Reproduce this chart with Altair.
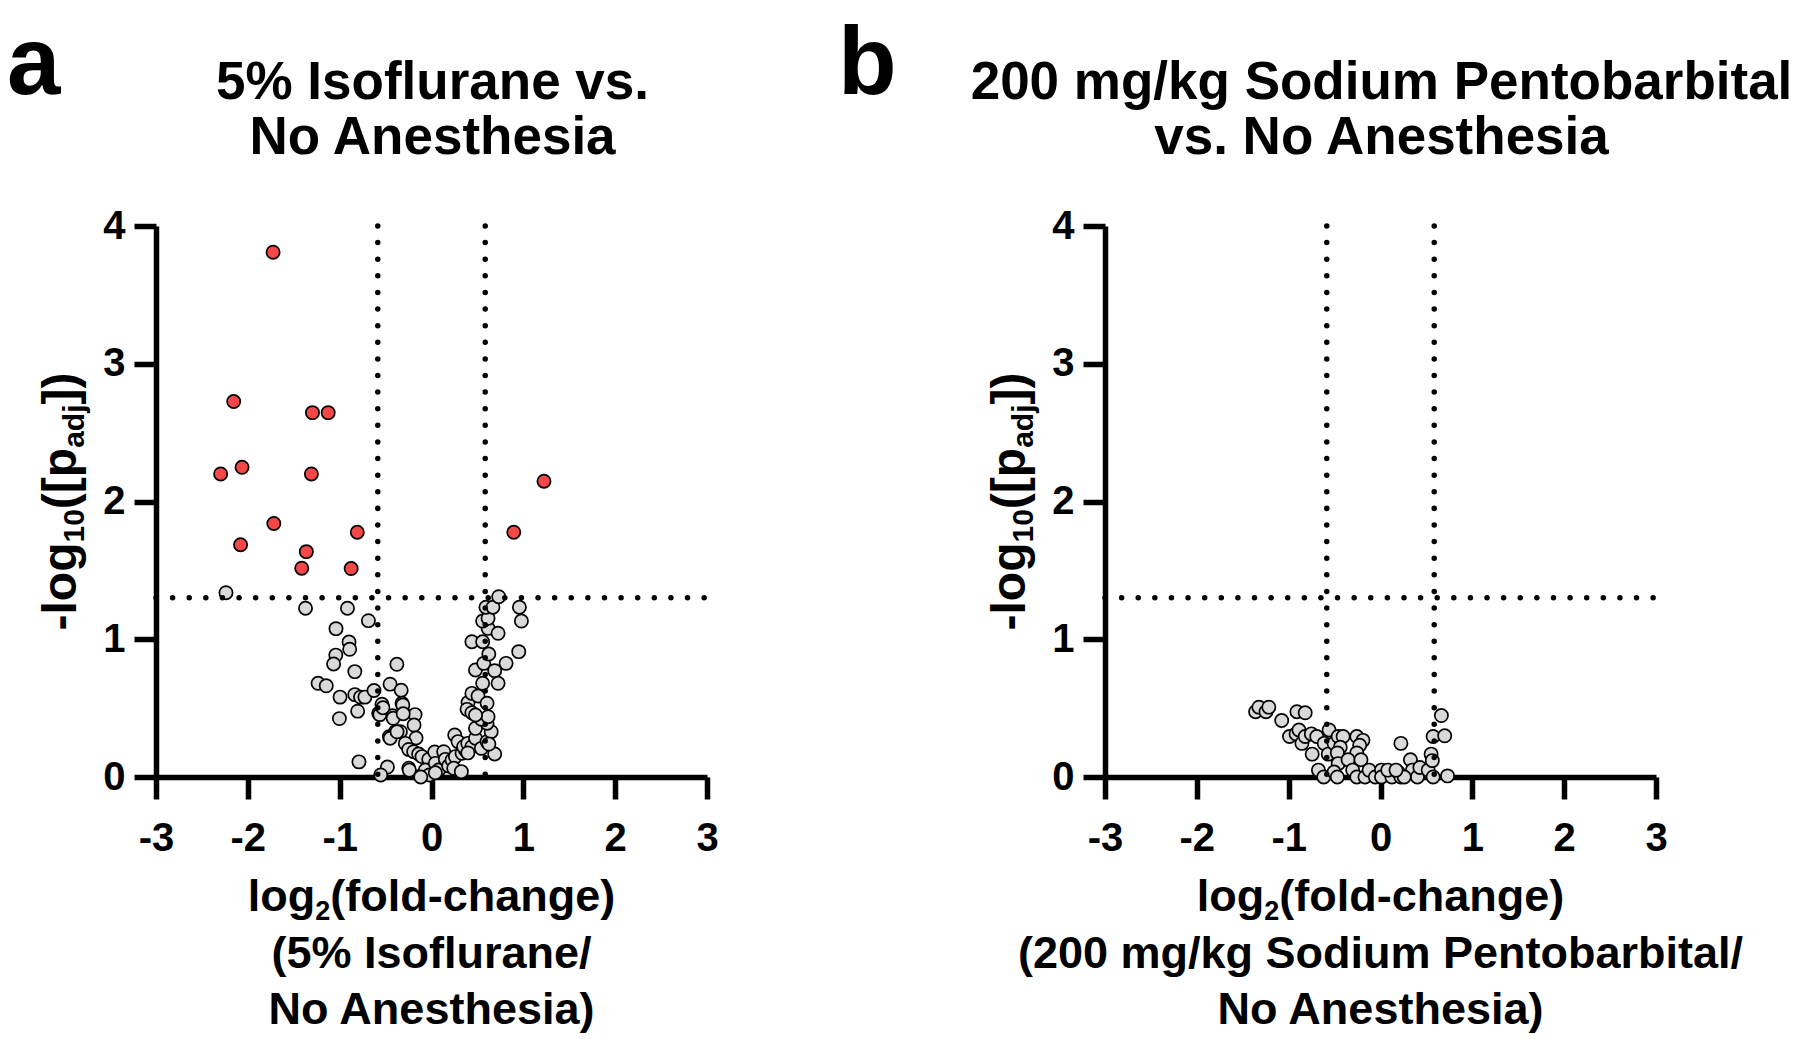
import altair as alt
import pandas as pd

# ---------------- data ----------------
FC_CUT = 0.585   # log2(1.5)
P_CUT = 1.301    # -log10(0.05)

x_ticks = [-3, -2, -1, 0, 1, 2, 3]
y_ticks = [0, 1, 2, 3, 4]

# Panel a: significant genes (red)
a_sig_x = [-1.725, -2.154, -1.296, -1.125, -2.296, -2.063, -1.308, 1.225, -1.717,
           -0.808, 0.896, -2.079, -1.363, -1.413, -0.875]
a_sig_y = [3.81, 2.726, 2.645, 2.645, 2.20, 2.248, 2.20, 2.147, 1.84,
           1.777, 1.777, 1.686, 1.636, 1.516, 1.513]

# Panel a: non-significant genes (grey)
a_ns_x = [-2.238, -1.372, -0.915, -0.687, -1.04, -0.898, -0.891, -1.042, -1.066, -0.835,
          -1.235, -1.146, -0.996, -0.835, -0.773, -0.725, -0.626, -1.003, -0.804, -0.79,
          -0.377, -0.451, -0.33, -0.48, -0.553,
          -0.539, -0.575, -0.423, -0.321, -0.306, -0.179, -0.19, -0.458, -0.393, -0.339,
          -0.168, -0.285, -0.248, -0.194, -0.14, -0.103, -0.03, -0.248, -0.118, -0.067,
          -0.023, -0.242, -0.45, -0.375, -0.5625, -0.529, -0.3125, -0.417, -0.308,
          0.035, 0.042, 0.078, 0.133, 0.151, 0.187, 0.224, 0.26, 0.242, 0.325,
          0.333, 0.369, 0.253, 0.289, 0.35, 0.395, 0.44, 0.479, 0.479, 0.543,
          0.605, 0.688, 0.65, 0.605, 0.543, 0.616, 0.398, 0.387, 0.44, 0.479,
          0.44, 0.507, 0.605, 0.479, 0.569, 0.688, 0.812, 0.557, 0.725, 0.624,
          0.44, 0.557, 0.616, 0.725, 0.557, 0.616, 0.593, 0.669, 0.732, 0.957,
          0.979, 0.95, 0.396, 0.625, 0.042, -0.117]
a_ns_y = [1.338, 1.225, 1.225, 1.135, 1.077, 0.98, 0.927, 0.885, 0.82, 0.765,
          0.68, 0.662, 0.58, 0.598, 0.58, 0.58, 0.628, 0.424, 0.478, 0.11,
          0.818, 0.674, 0.63, 0.072, 0.015,
          0.528, 0.462, 0.445, 0.535, 0.467, 0.453, 0.377, 0.293, 0.329, 0.329,
          0.283, 0.244, 0.2, 0.184, 0.167, 0.148, 0.128, 0.063, 0.007, 0.051,
          0.015, 0.05, 0.281, 0.328, 0.453, 0.503, 0.523, 0.426, 0.459,
          0.181, 0.099, 0.051, 0.184, 0.128, 0.08, 0.123, 0.148, 0.063, 0.039,
          0.172, 0.196, 0.305, 0.257, 0.22, 0.244, 0.22, 0.281, 0.353, 0.208,
          0.257, 0.167, 0.329, 0.39, 0.419, 0.438, 0.54, 0.491, 0.467, 0.45,
          0.607, 0.588, 0.535, 0.777, 0.825, 0.772, 0.825, 0.68, 0.68, 0.893,
          0.982, 0.982, 1.079, 1.043, 1.132, 1.152, 1.232, 1.232, 1.309, 1.232,
          1.132, 0.91, 0.175, 0.239, 0.031, 0.0]

# Panel b: all genes non-significant (grey)
b_ns_x = [-1.36, -1.324, -1.247, -1.216, -1.076, -0.91, -0.82, -0.991, -0.919, -0.888,
          -0.856, -0.82, -0.753, -0.744, -0.694, -0.613, -0.56, -0.569, -0.506, -0.461,
          -0.407, -0.438, -0.47, -0.461, -0.258, -0.191, -0.227, -0.258, -0.353, -0.213,
          -0.676, -0.618, -0.506, -0.47, -0.303, -0.258, -0.169, -0.124, -0.056, 0.011,
          0.011, 0.124, 0.191, 0.222, 0.222, 0.326, 0.348, 0.402, 0.429, 0.519,
          0.551, 0.564, 0.573, 0.663, 0.699, 0.573, 0.73, 0.258, 0.079, 0.169]
b_ns_y = [0.474, 0.507, 0.474, 0.507, 0.41, 0.474, 0.466, 0.294, 0.313, 0.341,
          0.244, 0.294, 0.313, 0.166, 0.294, 0.244, 0.341, 0.166, 0.244, 0.294,
          0.294, 0.216, 0.175, 0.097, 0.294, 0.266, 0.23, 0.175, 0.125, 0.125,
          0.05, 0.0, 0.036, 0.0, 0.05, 0.0, 0.0, 0.05, 0.0, 0.05,
          0.0, 0.0, 0.036, 0.0, 0.244, 0.125, 0.05, 0.0, 0.069, 0.05,
          0.166, 0.119, 0.294, 0.446, 0.299, 0.0, 0.008, 0.0, 0.05, 0.05]

title_a = ["5% Isoflurane vs.", "No Anesthesia"]
title_b = ["200 mg/kg Sodium Pentobarbital", "vs. No Anesthesia"]
xsub_a = ["(5% Isoflurane/", "No Anesthesia)"]
xsub_b = ["(200 mg/kg Sodium Pentobarbital/", "No Anesthesia)"]

# ---------------- styling ----------------
FONT = "Liberation Sans"
GREY = "#D9D9D9"
RED = "#F44848"
W = 551
H = 551

# Arial / Liberation Sans Bold advance widths (per 1000 em)
AW = {' ': 278, '(': 333, ')': 333, '-': 333, '.': 278, '/': 278, '%': 889,
      '[': 333, ']': 333, 'A': 722, 'I': 278, 'N': 722, 'P': 667, 'S': 667,
      'a': 556, 'b': 611, 'c': 556, 'd': 611, 'e': 556, 'f': 333, 'g': 611,
      'h': 611, 'i': 278, 'j': 278, 'k': 556, 'l': 278, 'm': 889, 'n': 611,
      'o': 611, 'p': 611, 'r': 389, 's': 556, 't': 333, 'u': 611, 'v': 556}
for d in "0123456789":
    AW[d] = 556


def tw(s, size):
    return sum(AW.get(c, 556) for c in s) / 1000.0 * size


one = pd.DataFrame({"k": [0]})


def txt(s, x, y, size, align="left", angle=0):
    return alt.Chart(one).mark_text(
        text=s, font=FONT, fontSize=size, fontWeight="bold", align=align,
        baseline="alphabetic", angle=angle, color="black"
    ).encode(x=alt.value(x), y=alt.value(y))


def sub_line_h(pieces, cx, y, main, sub, shift):
    total = sum(tw(s, sub if is_sub else main) for s, is_sub in pieces)
    x = cx - total / 2.0
    out = []
    for s, is_sub in pieces:
        size = sub if is_sub else main
        out.append(txt(s, x, y + (shift if is_sub else 0), size))
        x += tw(s, size)
    return out


def sub_line_v(pieces, x, cy, main, sub, shift):
    total = sum(tw(s, sub if is_sub else main) for s, is_sub in pieces)
    y = cy + total / 2.0
    out = []
    for s, is_sub in pieces:
        size = sub if is_sub else main
        out.append(txt(s, x + (shift if is_sub else 0), y, size, angle=270))
        y -= tw(s, size)
    return out


SC_X = alt.Scale(domain=[-3, 3], nice=False, zero=False)
SC_Y = alt.Scale(domain=[0, 4], nice=False, zero=False)
AX_X = alt.Axis(values=x_ticks, title=None, labelExpr="'' + datum.value")
AX_Y = alt.Axis(values=y_ticks, title=None, labelExpr="'' + datum.value")


def panel(letter, letter_x, title, xsub, groups):
    layers = []
    for xs, ys, fill in groups:
        df = pd.DataFrame({"x": xs, "y": ys})
        layers.append(
            alt.Chart(df).mark_circle(size=175, fill=fill, stroke="black",
                                      strokeWidth=1.7, opacity=1)
            .encode(x=alt.X("x:Q", scale=SC_X, axis=AX_X),
                    y=alt.Y("y:Q", scale=SC_Y, axis=AX_Y))
        )
    vdf = pd.DataFrame({"x": [-FC_CUT, FC_CUT], "y0": [4, 4], "y1": [0, 0]})
    hdf = pd.DataFrame({"x0": [-3], "x1": [3], "y": [P_CUT]})
    rule_style = dict(color="black", strokeWidth=5.5, strokeDash=[0.01, 16.6],
                      strokeCap="round")
    layers.append(
        alt.Chart(vdf).mark_rule(**rule_style).encode(
            x=alt.X("x:Q", scale=SC_X, axis=AX_X),
            y=alt.Y("y0:Q", scale=SC_Y, axis=AX_Y), y2="y1:Q")
    )
    layers.append(
        alt.Chart(hdf).mark_rule(**rule_style).encode(
            x=alt.X("x0:Q", scale=SC_X, axis=AX_X), x2="x1:Q",
            y=alt.Y("y:Q", scale=SC_Y, axis=AX_Y))
    )
    # panel letter
    layers.append(txt(letter, letter_x, -132, 96))
    # title
    layers.append(txt(title[0], W / 2 + 1, -127.5, 53, align="center"))
    layers.append(txt(title[1], W / 2 + 1, -72.5, 53, align="center"))
    # x title with subscript (below the axis)
    layers += sub_line_h([("log", False), ("2", True), ("(fold-change)", False)],
                         W / 2, H + 133.5, 45, 27, 9)
    layers.append(txt(xsub[0], W / 2, H + 190.5, 45, align="center"))
    layers.append(txt(xsub[1], W / 2, H + 246.5, 45, align="center"))
    # y title with subscripts
    layers += sub_line_v([("-log", False), ("10", True), ("([p", False),
                          ("adj", True), ("])", False)],
                         -80, H / 2, 48, 30, 8)
    return alt.layer(*layers).properties(width=W, height=H)


pa = panel("a", -149, title_a, xsub_a,
           [(a_ns_x, a_ns_y, GREY), (a_sig_x, a_sig_y, RED)])
pb = panel("b", -267, title_b, xsub_b, [(b_ns_x, b_ns_y, GREY)])

chart = alt.hconcat(pa, pb, spacing=398, bounds="flush").properties(
    autosize=alt.AutoSizeParams(type="none"),
    padding={"left": 148, "top": 218, "right": 1636, "bottom": 805},
).configure_view(stroke=None).configure_axis(
    domainColor="black", domainWidth=5.5, tickColor="black", tickWidth=5.5,
    tickSize=22, labelFont=FONT, labelFontSize=40, labelFontWeight="bold",
    labelColor="black", grid=False, labelFlush=False, labelOverlap=False,
    labelBound=False
).configure_axisX(labelPadding=19).configure_axisY(labelPadding=9)

chart.save("out.html", embed_options={"renderer": "svg", "actions": False})
